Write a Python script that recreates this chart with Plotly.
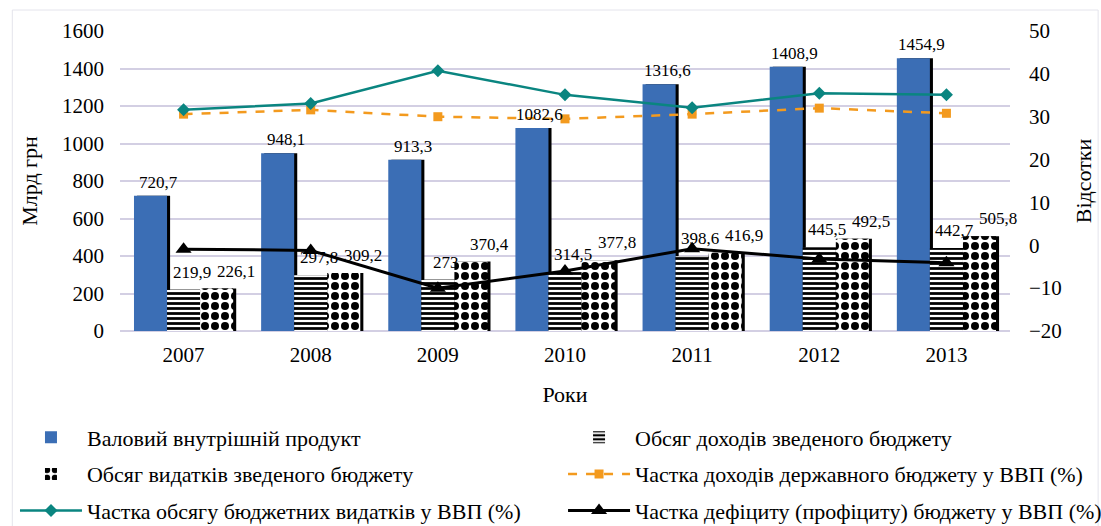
import plotly.graph_objects as go

years = ["2007", "2008", "2009", "2010", "2011", "2012", "2013"]
gdp = [720.7, 948.1, 913.3, 1082.6, 1316.6, 1408.9, 1454.9]
revenue = [219.9, 297.8, 273.0, 314.5, 398.6, 445.5, 442.7]
expenditure = [226.1, 309.2, 370.4, 377.8, 416.9, 492.5, 505.8]
rev_share = [30.6, 31.6, 30.0, 29.5, 30.6, 32.0, 30.8]
exp_share = [31.6, 33.1, 40.7, 35.1, 32.1, 35.5, 35.1]
deficit_share = [-0.9, -1.2, -10.0, -6.0, -0.8, -3.2, -4.1]

def fmt(v):
    return f"{v:g}".replace(".", ",")

FONT = "Liberation Serif"
W, H = 1101, 526
ML, MR, MT, MB = 120, 91, 31, 195
BW = 0.26          # bar width (category units)
OFFS = [-0.39, -0.13, 0.13]
SH = 0.024         # shadow shift
LABEL_EXTRA = [8, 8, 19]   # label nudge to the right, px (as in the reference)
LABEL_LIFT = [2, 6, 6]

fig = go.Figure()

# shadows (drawn first, below the bars)
for vals, off in zip([gdp, revenue, expenditure], OFFS):
    fig.add_trace(go.Bar(
        x=years, y=vals, width=BW, offset=off + SH,
        marker=dict(color="black", line=dict(width=0)),
        showlegend=False, hoverinfo="skip",
    ))

fig.add_trace(go.Bar(
    name="Валовий внутрішній продукт", x=years, y=gdp, width=BW, offset=OFFS[0],
    marker=dict(color="#3B6EB5", line=dict(width=0)),
    legend="legend", legendgroup="a",
))
fig.add_trace(go.Bar(
    name="Обсяг доходів зведеного бюджету", x=years, y=revenue, width=BW, offset=OFFS[1],
    marker=dict(color="white", line=dict(width=0),
                pattern=dict(shape="-", fgcolor="black", bgcolor="white",
                             fgopacity=1, size=5, solidity=0.55)),
    legend="legend2", legendgroup="b",
))
fig.add_trace(go.Bar(
    name="Обсяг видатків зведеного бюджету", x=years, y=expenditure, width=BW, offset=OFFS[2],
    marker=dict(color="white", line=dict(width=0),
                pattern=dict(shape=".", fgcolor="black", bgcolor="white",
                             fgopacity=1, size=10, solidity=0.5)),
    legend="legend", legendgroup="c",
))
fig.add_trace(go.Scatter(
    name="Частка доходів державного бюджету у ВВП (%)", x=years, y=rev_share, yaxis="y2",
    mode="lines+markers", line=dict(color="#F39A1E", width=2.5, dash="dash"),
    marker=dict(symbol="square", size=9, color="#F39A1E"),
    legend="legend2", legendgroup="d",
))
fig.add_trace(go.Scatter(
    name="Частка обсягу бюджетних видатків у ВВП (%)", x=years, y=exp_share, yaxis="y2",
    mode="lines+markers", line=dict(color="#0A8580", width=2.5),
    marker=dict(symbol="diamond", size=10, color="#0A8580"),
    legend="legend", legendgroup="e",
))
fig.add_trace(go.Scatter(
    name="Частка дефіциту (профіциту) бюджету у ВВП (%)", x=years, y=deficit_share, yaxis="y2",
    mode="lines+markers", line=dict(color="black", width=3),
    marker=dict(symbol="triangle-up", size=14, color="black"),
    legend="legend2", legendgroup="f",
))

# data labels: on a category axis annotations use category serial numbers;
# placed at bar centre (offset + width/2) in data units, then nudged a few px
annotations = []
for vals, off, extra, lift in zip([gdp, revenue, expenditure], OFFS, LABEL_EXTRA, LABEL_LIFT):
    for i, v in enumerate(vals):
        annotations.append(dict(
            x=i + off + BW / 2, y=v, xref="x", yref="y", text=fmt(v), showarrow=False,
            xanchor="center", yanchor="bottom", xshift=extra, yshift=lift,
            font=dict(size=17, family=FONT, color="black"),
        ))

legend_common = dict(
    orientation="v", yanchor="top", xanchor="left",
    font=dict(size=22, family=FONT, color="black"),
    itemwidth=62, tracegroupgap=5, bgcolor="rgba(0,0,0,0)",
)

fig.update_layout(
    width=W, height=H,
    paper_bgcolor="white", plot_bgcolor="white",
    font=dict(family=FONT, size=21, color="black"),
    margin=dict(l=ML, r=MR, t=MT, b=MB, autoexpand=False),
    barmode="overlay",
    xaxis=dict(
        type="category", range=[-0.5, len(years) - 0.5],
        title=dict(text="Роки", font=dict(size=22, family=FONT), standoff=20),
        tickfont=dict(size=21, family=FONT), showgrid=False, showline=False, ticks="",
        ticklabelstandoff=9,
    ),
    yaxis=dict(
        title=dict(text="Млрд грн", font=dict(size=22, family=FONT), standoff=18),
        range=[0, 1600], dtick=200, tickfont=dict(size=21, family=FONT),
        showgrid=True, gridcolor="#D3CFE3", gridwidth=1.5,
        zeroline=True, zerolinecolor="#D3CFE3", zerolinewidth=1.5,
        showline=False, ticks="", ticklabelstandoff=15,
    ),
    yaxis2=dict(
        title=dict(text="Відсотки", font=dict(size=22, family=FONT), standoff=14),
        overlaying="y", side="right", range=[-20, 50], dtick=10,
        tickfont=dict(size=21, family=FONT), showgrid=False, zeroline=False,
        showline=False, ticks="", ticklabelstandoff=18,
    ),
    legend=dict(x=-0.118, y=-0.285, **legend_common),
    legend2=dict(x=0.4978, y=-0.285, **legend_common),
    annotations=annotations,
    shapes=[dict(type="rect", xref="paper", yref="paper",
                 x0=-0.121, x1=1.099, y0=-0.66, y1=1.07,
                 line=dict(color="#E4E4EC", width=1), layer="below")],
)

fig.write_html(
    "out.html",
    config={"displayModeBar": False},
    post_script="document.body.style.margin='0';document.body.style.overflow='hidden';",
)
